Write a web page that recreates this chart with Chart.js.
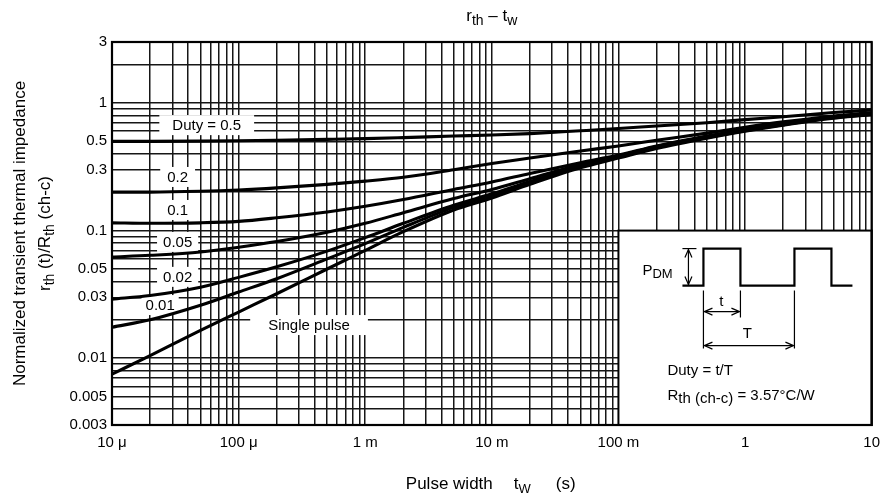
<!DOCTYPE html>
<html>
<head>
<meta charset="utf-8">
<script src="https://cdn.jsdelivr.net/npm/chart.js@4.4.1/dist/chart.umd.min.js"></script>
<style>
  html, body { margin: 0; padding: 0; background: #fff; }
</style>
</head>
<body>
<canvas id="rthChart" width="889" height="497"></canvas>
<script>
// pulse width (s) and normalized transient thermal impedance per duty
const pulseWidths = [1e-5, 2e-5, 5e-5, 1e-4, 2e-4, 5e-4, 1e-3, 2e-3, 5e-3, 1e-2, 2e-2, 5e-2, 0.1, 0.2, 0.5, 1, 2, 5, 10];
const rDuty05  = [0.50, 0.50, 0.502, 0.505, 0.51, 0.518, 0.525, 0.535, 0.55, 0.56, 0.575, 0.605, 0.63, 0.66, 0.70, 0.74, 0.78, 0.84, 0.88];
const rDuty02  = [0.20, 0.20, 0.203, 0.208, 0.216, 0.23, 0.244, 0.262, 0.30, 0.335, 0.37, 0.42, 0.46, 0.51, 0.58, 0.645, 0.71, 0.79, 0.84];
const rDuty01  = [0.115, 0.114, 0.115, 0.118, 0.126, 0.14, 0.155, 0.175, 0.21, 0.24, 0.28, 0.34, 0.39, 0.46, 0.55, 0.62, 0.69, 0.78, 0.83];
const rDuty005 = [0.062, 0.064, 0.068, 0.074, 0.082, 0.097, 0.114, 0.138, 0.178, 0.21, 0.255, 0.33, 0.385, 0.455, 0.545, 0.615, 0.685, 0.775, 0.825];
const rDuty002 = [0.029, 0.031, 0.036, 0.043, 0.052, 0.069, 0.088, 0.114, 0.158, 0.194, 0.242, 0.32, 0.38, 0.45, 0.54, 0.61, 0.68, 0.77, 0.82];
const rDuty001 = [0.0175, 0.02, 0.026, 0.033, 0.042, 0.06, 0.079, 0.106, 0.152, 0.188, 0.236, 0.315, 0.375, 0.445, 0.535, 0.605, 0.675, 0.765, 0.815];
const rSingle  = [0.0075, 0.0105, 0.0165, 0.023, 0.032, 0.05, 0.07, 0.098, 0.145, 0.18, 0.23, 0.31, 0.37, 0.44, 0.53, 0.60, 0.67, 0.76, 0.81];

const seriesNames = ['Duty = 0.5', '0.2', '0.1', '0.05', '0.02', '0.01', 'Single pulse'];
const seriesValues = [rDuty05, rDuty02, rDuty01, rDuty005, rDuty002, rDuty001, rSingle];

// tick labels
const xLabelValues = [1e-5, 1e-4, 1e-3, 1e-2, 0.1, 1, 10];
const xLabelTexts  = ['10 μ', '100 μ', '1 m', '10 m', '100 m', '1', '10'];
const yLabelValues = [0.003, 0.005, 0.01, 0.03, 0.05, 0.1, 0.3, 0.5, 1, 3];
const yLabelTexts  = ['0.003', '0.005', '0.01', '0.03', '0.05', '0.1', '0.3', '0.5', '1', '3'];

// where the curve names sit (data units)
const curveLabelX = [5.6e-5, 3.3e-5, 3.3e-5, 3.3e-5, 3.3e-5, 2.4e-5, 3.6e-4];
const curveLabelY = [0.67, 0.263, 0.145, 0.0815, 0.0434, 0.0261, 0.0182];

// inset box corners (data units)
const insetX = [0.1, 10];
const insetY = [0.003, 0.1];

const FONT = '"Liberation Sans", Arial, sans-serif';

function logGrid(minExp, maxExp, lo, hi) {
  const out = [];
  for (let e = minExp; e <= maxExp; e++) {
    for (let m = 1; m <= 9; m++) {
      const v = parseFloat((m * Math.pow(10, e)).toPrecision(6));
      if (v >= lo - 1e-12 && v <= hi * 1.000001) out.push(v);
    }
  }
  return out;
}

function labelFor(v, values, texts) {
  for (let i = 0; i < values.length; i++) {
    if (Math.abs(v - values[i]) / values[i] < 1e-6) return texts[i];
  }
  return '';
}

// text with subscripts: parts = [[text, isSub], ...]
function richWidth(ctx, parts, size, subSize) {
  let w = 0;
  parts.forEach(p => {
    ctx.font = (p[1] ? subSize : size) + 'px ' + FONT;
    w += ctx.measureText(p[0]).width;
  });
  return w;
}
function drawRich(ctx, parts, x, y, size, subSize, subDrop) {
  let cx = x;
  parts.forEach(p => {
    ctx.font = (p[1] ? subSize : size) + 'px ' + FONT;
    ctx.fillText(p[0], cx, y + (p[1] ? subDrop : 0));
    cx += ctx.measureText(p[0]).width;
  });
}

function arrowHead(ctx, x, y, dx, dy) {
  // open head pointing along (dx, dy)
  const len = 8, wid = 3.5;
  const px = -dy, py = dx;
  ctx.beginPath();
  ctx.moveTo(x - dx * len + px * wid, y - dy * len + py * wid);
  ctx.lineTo(x, y);
  ctx.lineTo(x - dx * len - px * wid, y - dy * len - py * wid);
  ctx.stroke();
}
function dimArrow(ctx, x1, y1, x2, y2) {
  ctx.beginPath();
  ctx.moveTo(x1, y1);
  ctx.lineTo(x2, y2);
  ctx.stroke();
  const L = Math.hypot(x2 - x1, y2 - y1);
  const dx = (x2 - x1) / L, dy = (y2 - y1) / L;
  arrowHead(ctx, x2, y2, dx, dy);
  arrowHead(ctx, x1, y1, -dx, -dy);
}

const overlayPlugin = {
  id: 'overlay',
  beforeDatasetsDraw(chart) {
    const { ctx, scales: { x, y } } = chart;
    ctx.save();

    // curve name labels on white patches
    ctx.font = '15px ' + FONT;
    ctx.textBaseline = 'middle';
    ctx.textAlign = 'center';
    const pads = [13, 7, 7, 6, 6, 4, 18];
    seriesNames.forEach((name, i) => {
      const px = x.getPixelForValue(curveLabelX[i]);
      const py = y.getPixelForValue(curveLabelY[i]);
      const w = ctx.measureText(name).width + pads[i] * 2;
      ctx.fillStyle = '#fff';
      ctx.fillRect(px - w / 2, py - 10, w, 20);
      ctx.fillStyle = '#000';
      ctx.fillText(name, px, py + 1);
    });

    // inset box
    const l = x.getPixelForValue(insetX[0]), r = x.getPixelForValue(insetX[1]);
    const t = y.getPixelForValue(insetY[1]), b = y.getPixelForValue(insetY[0]);
    ctx.fillStyle = '#fff';
    ctx.fillRect(l, t, r - l, b - t);
    ctx.strokeStyle = '#000';
    ctx.lineWidth = 2;
    ctx.strokeRect(l, t, r - l, b - t);

    // pulse train
    const hi = t + 18, lo = t + 55;
    ctx.lineWidth = 2.2;
    ctx.beginPath();
    ctx.moveTo(l + 64, lo);
    ctx.lineTo(l + 85, lo); ctx.lineTo(l + 85, hi);
    ctx.lineTo(l + 122, hi); ctx.lineTo(l + 122, lo);
    ctx.lineTo(l + 176, lo); ctx.lineTo(l + 176, hi);
    ctx.lineTo(l + 213, hi); ctx.lineTo(l + 213, lo);
    ctx.lineTo(l + 234, lo);
    ctx.stroke();

    ctx.lineWidth = 1.2;
    // PDM arrow
    ctx.beginPath();
    ctx.moveTo(l + 64, hi); ctx.lineTo(l + 78, hi);
    ctx.stroke();
    dimArrow(ctx, l + 70, hi + 1, l + 70, lo - 1);
    // extension lines
    ctx.beginPath();
    ctx.moveTo(l + 85, lo + 5); ctx.lineTo(l + 85, t + 118);
    ctx.moveTo(l + 122, lo + 5); ctx.lineTo(l + 122, t + 87);
    ctx.moveTo(l + 176, lo + 5); ctx.lineTo(l + 176, t + 118);
    ctx.stroke();
    dimArrow(ctx, l + 86, t + 81, l + 121, t + 81);
    dimArrow(ctx, l + 86, t + 115, l + 175, t + 115);

    ctx.fillStyle = '#000';
    ctx.textAlign = 'left';
    ctx.textBaseline = 'alphabetic';
    drawRich(ctx, [['P', false], ['DM', true]], l + 24, t + 44, 15, 13, 3);
    ctx.textAlign = 'center';
    ctx.font = '15px ' + FONT;
    ctx.fillText('t', l + 103, t + 75);
    ctx.fillText('T', l + 129, t + 107);
    ctx.textAlign = 'left';
    ctx.fillText('Duty = t/T', l + 49, t + 144);
    drawRich(ctx, [['R', false], ['th', true], [' ', true], ['(ch-c)', true], [' = 3.57°C/W', false]], l + 49, t + 169, 15, 15, 3);

    ctx.restore();
  },
  afterDraw(chart) {
    const { ctx, chartArea: a } = chart;
    ctx.save();
    ctx.strokeStyle = '#000';
    ctx.lineWidth = 2.2;
    ctx.strokeRect(a.left, a.top, a.right - a.left, a.bottom - a.top);

    ctx.fillStyle = '#000';
    ctx.textAlign = 'left';
    ctx.textBaseline = 'alphabetic';
    const cx = (a.left + a.right) / 2;

    // chart title
    const title = [['r', false], ['th', true], [' – t', false], ['w', true]];
    const tw = richWidth(ctx, title, 17, 14);
    drawRich(ctx, title, cx - tw / 2, 21, 17, 14, 4);

    // x axis title
    drawRich(ctx, [['Pulse width', false]], cx - 86, 489, 17, 14, 4);
    drawRich(ctx, [['t', false], ['W', true]], cx + 22, 489, 17, 13, 4);
    drawRich(ctx, [['(s)', false]], cx + 64, 489, 17, 14, 4);

    // y axis title, two rotated lines
    const cy = (a.top + a.bottom) / 2;
    ctx.save();
    ctx.translate(25, cy);
    ctx.rotate(-Math.PI / 2);
    ctx.font = '17px ' + FONT;
    ctx.textAlign = 'center';
    ctx.fillText('Normalized transient thermal impedance', 0, 0);
    ctx.restore();

    ctx.save();
    ctx.translate(50, cy);
    ctx.rotate(-Math.PI / 2);
    const yt = [['r', false], ['th', true], [' (t)/R', false], ['th', true], [' (ch-c)', false]];
    const yw = richWidth(ctx, yt, 17, 14);
    drawRich(ctx, yt, -yw / 2, 0, 17, 14, 4);
    ctx.restore();

    ctx.restore();
  }
};

const xGrid = logGrid(-5, 1, 1e-5, 10);
const yGrid = logGrid(-3, 0, 0.003, 3);

new Chart(document.getElementById('rthChart').getContext('2d'), {
  type: 'scatter',
  data: {
    datasets: seriesValues.map((vals, i) => ({
      label: seriesNames[i],
      data: pulseWidths.map((t, j) => ({ x: t, y: vals[j] })),
      showLine: true,
      borderColor: '#000',
      borderWidth: 3.1,
      pointRadius: 0,
      cubicInterpolationMode: 'monotone',
      fill: false
    }))
  },
  options: {
    responsive: false,
    animation: false,
    layout: { padding: { top: 42, right: 10, left: 0, bottom: 0 } },
    plugins: {
      legend: { display: false },
      tooltip: { enabled: false },
      title: { display: false }
    },
    scales: {
      x: {
        type: 'logarithmic',
        min: 1e-5,
        max: 10,
        afterBuildTicks: s => { s.ticks = xGrid.map(v => ({ value: v })); },
        afterFit: s => { s.height = 72; },
        ticks: {
          callback: v => labelFor(v, xLabelValues, xLabelTexts),
          autoSkip: false,
          maxRotation: 0,
          color: '#000',
          padding: 9,
          font: { family: FONT, size: 15 }
        },
        grid: { color: '#161616', lineWidth: 1.5, drawTicks: false },
        border: { color: '#000', width: 2 }
      },
      y: {
        type: 'logarithmic',
        min: 0.003,
        max: 3,
        afterBuildTicks: s => { s.ticks = yGrid.map(v => ({ value: v })); },
        afterFit: s => { s.width = 112; },
        ticks: {
          callback: v => labelFor(v, yLabelValues, yLabelTexts),
          autoSkip: false,
          color: '#000',
          padding: 5,
          font: { family: FONT, size: 15 }
        },
        grid: { color: '#161616', lineWidth: 1.5, drawTicks: false },
        border: { color: '#000', width: 2 }
      }
    }
  },
  plugins: [overlayPlugin]
});
</script>
</body>
</html>
